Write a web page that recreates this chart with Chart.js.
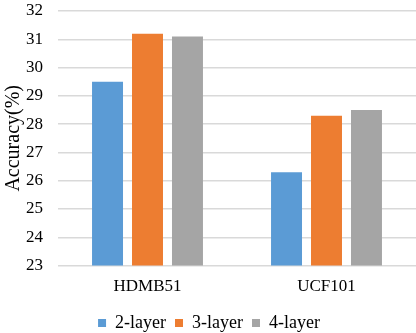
<!DOCTYPE html>
<html lang="en">
<head>
  <meta charset="UTF-8">
  <title>Accuracy by layers</title>
  <script src="https://cdn.jsdelivr.net/npm/chart.js"></script>
  <style>
   html, body { margin: 0; padding: 0; background: #fff; }
   #wrap { width: 416px; height: 333px; overflow: hidden; }
  </style>
</head>
<body>
  <div id="wrap"><canvas id="myChart" width="416" height="342"></canvas></div>
  <script>
    // data
    const datasetsNames = ['HDMB51', 'UCF101'];
    const layer2 = [29.5, 26.3];
    const layer3 = [31.2, 28.3];
    const layer4 = [31.1, 28.5];
    const yTicks = [23, 24, 25, 26, 27, 28, 29, 30, 31, 32];

    const serif = "'Liberation Serif', 'Times New Roman', serif";
    Chart.defaults.font.family = serif;
    Chart.defaults.color = '#000';

    const ctx = document.getElementById('myChart').getContext('2d');
    const myChart = new Chart(ctx, {
      type: 'bar',
      data: {
        labels: datasetsNames,
        datasets: [
          { label: '2-layer', data: layer2, backgroundColor: '#5B9BD5', borderColor: '#5B9BD5', borderWidth: 0 },
          { label: '3-layer', data: layer3, backgroundColor: '#ED7D31', borderColor: '#ED7D31', borderWidth: 0 },
          { label: '4-layer', data: layer4, backgroundColor: '#A5A5A5', borderColor: '#A5A5A5', borderWidth: 0 }
        ]
      },
      options: {
        responsive: false,
        animation: false,
        categoryPercentage: 0.67,
        barPercentage: 0.775,
        layout: { padding: { left: 2, right: 0, top: 0, bottom: 0 } },
        scales: {
          x: {
            grid: { display: false },
            border: { display: false },
            ticks: { font: { size: 17 }, padding: 3 },
            afterFit: function(scale) { scale.height += 5; }
          },
          y: {
            min: 23, max: 32,
            afterBuildTicks: function(scale) { scale.ticks = yTicks.map(v => ({ value: v })); },
            afterFit: function(scale) { scale.width = 56; scale.paddingTop = 11; },
            grid: { color: '#d9d9d9', lineWidth: 1.5, drawTicks: false },
            border: { display: false },
            ticks: { font: { size: 17 }, padding: 15 },
            title: { display: true, text: 'Accuracy(%)', font: { size: 20 }, padding: 0 }
          }
        },
        plugins: {
          legend: {
            display: true, position: 'bottom',
            labels: { font: { size: 18 }, boxWidth: 8, boxHeight: 8, padding: 9 }
          },
          tooltip: { enabled: false }
        }
      }
    });
  </script>
</body>
</html>
